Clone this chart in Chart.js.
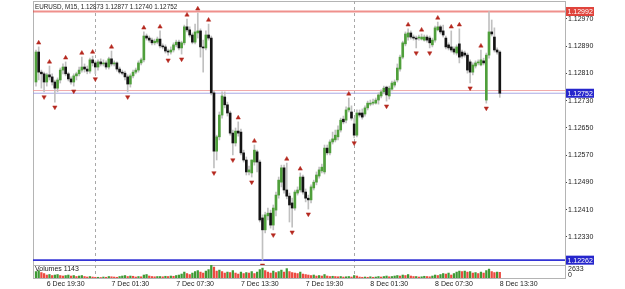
<!DOCTYPE html>
<html>
<head>
<meta charset="utf-8">
<script src="https://cdn.jsdelivr.net/npm/chart.js@4.4.1/dist/chart.umd.min.js"></script>
<style>
  html, body { margin: 0; padding: 0; background: #fff; }
  #wrap { width: 625px; height: 289px; }
</style>
</head>
<body>
<div id="wrap"><canvas id="chart" width="625" height="289"></canvas></div>
<script>
const symbol = 'EURUSD';
const timeframe = 'M15';

// M15 bars, 6 Dec 18:30 -> 8 Dec 13:30
const open = [
  1.12785, 1.12873, 1.12814, 1.12809, 1.12785, 1.12806, 1.12800, 1.12785, 1.12767, 1.12791,
  1.12820, 1.12829, 1.12809, 1.12794, 1.12785, 1.12803, 1.12809, 1.12820, 1.12829, 1.12823,
  1.12817, 1.12850, 1.12841, 1.12829, 1.12844, 1.12838, 1.12841, 1.12829, 1.12853, 1.12838,
  1.12841, 1.12823, 1.12814, 1.12811, 1.12800, 1.12779, 1.12803, 1.12814, 1.12820, 1.12841,
  1.12850, 1.12920, 1.12914, 1.12908, 1.12900, 1.12902, 1.12911, 1.12891, 1.12888, 1.12876,
  1.12873, 1.12879, 1.12894, 1.12902, 1.12885, 1.12900, 1.12947, 1.12938, 1.12923, 1.12902,
  1.12929, 1.12935, 1.12888, 1.12885, 1.12923, 1.12914, 1.12753, 1.12582, 1.12624, 1.12688,
  1.12741, 1.12718, 1.12694, 1.12635, 1.12606, 1.12641, 1.12638, 1.12577, 1.12556, 1.12521,
  1.12518, 1.12550, 1.12580, 1.12550, 1.12386, 1.12351, 1.12392, 1.12400, 1.12365, 1.12409,
  1.12453, 1.12491, 1.12533, 1.12468, 1.12450, 1.12430, 1.12415, 1.12459, 1.12468, 1.12506,
  1.12462, 1.12444, 1.12439, 1.12474, 1.12491, 1.12509, 1.12524, 1.12521, 1.12591, 1.12577,
  1.12609, 1.12615, 1.12624, 1.12644, 1.12676, 1.12673, 1.12703, 1.12697, 1.12662, 1.12629,
  1.12694, 1.12694, 1.12691, 1.12709, 1.12720, 1.12723, 1.12723, 1.12732, 1.12744, 1.12756,
  1.12770, 1.12744, 1.12764, 1.12776, 1.12791, 1.12823, 1.12858, 1.12897, 1.12917, 1.12929,
  1.12917, 1.12914, 1.12914, 1.12911, 1.12908, 1.12917, 1.12914, 1.12894, 1.12908, 1.12938,
  1.12947, 1.12935, 1.12914, 1.12894, 1.12888, 1.12882, 1.12870, 1.12897, 1.12873, 1.12870,
  1.12864, 1.12844, 1.12814, 1.12832, 1.12841, 1.12835, 1.12847, 1.12732, 1.12864, 1.12932,
  1.12917, 1.12879, 1.12873
];
const high = [
  1.12879, 1.12888, 1.12820, 1.12814, 1.12811, 1.12832, 1.12809, 1.12791, 1.12797, 1.12826,
  1.12838, 1.12844, 1.12814, 1.12800, 1.12809, 1.12814, 1.12829, 1.12858, 1.12838, 1.12832,
  1.12855, 1.12861, 1.12847, 1.12850, 1.12853, 1.12850, 1.12847, 1.12858, 1.12876, 1.12847,
  1.12844, 1.12829, 1.12820, 1.12817, 1.12806, 1.12809, 1.12820, 1.12826, 1.12847, 1.12855,
  1.12932, 1.12926, 1.12920, 1.12914, 1.12911, 1.12917, 1.12935, 1.12897, 1.12894, 1.12882,
  1.12888, 1.12900, 1.12908, 1.12908, 1.12905, 1.12952, 1.12970, 1.12947, 1.12929, 1.12955,
  1.12988, 1.12941, 1.12908, 1.12935, 1.12955, 1.12920, 1.12759, 1.12629, 1.12697, 1.12756,
  1.12756, 1.12726, 1.12700, 1.12644, 1.12650, 1.12668, 1.12647, 1.12585, 1.12565, 1.12538,
  1.12556, 1.12600, 1.12585, 1.12556, 1.12395, 1.12403, 1.12415, 1.12409, 1.12424, 1.12462,
  1.12506, 1.12541, 1.12541, 1.12547, 1.12459, 1.12444, 1.12468, 1.12477, 1.12518, 1.12512,
  1.12471, 1.12453, 1.12483, 1.12497, 1.12521, 1.12535, 1.12544, 1.12600, 1.12600, 1.12615,
  1.12638, 1.12644, 1.12656, 1.12679, 1.12685, 1.12712, 1.12738, 1.12715, 1.12679, 1.12703,
  1.12703, 1.12706, 1.12715, 1.12729, 1.12732, 1.12735, 1.12738, 1.12753, 1.12762, 1.12773,
  1.12773, 1.12773, 1.12788, 1.12791, 1.12838, 1.12864, 1.12905, 1.12932, 1.12941, 1.12935,
  1.12923, 1.12920, 1.12923, 1.12926, 1.12923, 1.12923, 1.12920, 1.12914, 1.12949, 1.12961,
  1.12952, 1.12952, 1.12920, 1.12900, 1.12935, 1.12888, 1.12894, 1.12941, 1.12879, 1.12876,
  1.12870, 1.12850, 1.12841, 1.12847, 1.12850, 1.12879, 1.12855, 1.12870, 1.12992, 1.12967,
  1.12944, 1.12885, 1.12877
];
const low = [
  1.12773, 1.12791, 1.12767, 1.12756, 1.12773, 1.12791, 1.12776, 1.12726, 1.12756, 1.12782,
  1.12809, 1.12803, 1.12788, 1.12779, 1.12773, 1.12791, 1.12803, 1.12814, 1.12814, 1.12809,
  1.12811, 1.12832, 1.12809, 1.12820, 1.12832, 1.12832, 1.12823, 1.12823, 1.12832, 1.12832,
  1.12817, 1.12809, 1.12806, 1.12791, 1.12756, 1.12770, 1.12797, 1.12809, 1.12814, 1.12835,
  1.12844, 1.12908, 1.12902, 1.12894, 1.12894, 1.12897, 1.12885, 1.12882, 1.12870, 1.12864,
  1.12867, 1.12873, 1.12888, 1.12879, 1.12867, 1.12894, 1.12932, 1.12917, 1.12897, 1.12897,
  1.12914, 1.12858, 1.12814, 1.12879, 1.12908, 1.12747, 1.12533, 1.12556, 1.12615, 1.12679,
  1.12709, 1.12685, 1.12629, 1.12571, 1.12597, 1.12626, 1.12571, 1.12550, 1.12512, 1.12512,
  1.12506, 1.12541, 1.12521, 1.12374, 1.12262, 1.12342, 1.12380, 1.12356, 1.12351, 1.12392,
  1.12444, 1.12477, 1.12459, 1.12442, 1.12374, 1.12359, 1.12409, 1.12453, 1.12462, 1.12456,
  1.12433, 1.12412, 1.12430, 1.12468, 1.12483, 1.12503, 1.12518, 1.12515, 1.12571, 1.12571,
  1.12603, 1.12609, 1.12615, 1.12638, 1.12662, 1.12665, 1.12697, 1.12673, 1.12621, 1.12624,
  1.12682, 1.12676, 1.12685, 1.12703, 1.12715, 1.12718, 1.12720, 1.12720, 1.12738, 1.12750,
  1.12729, 1.12735, 1.12759, 1.12770, 1.12785, 1.12817, 1.12853, 1.12891, 1.12908, 1.12911,
  1.12908, 1.12885, 1.12908, 1.12908, 1.12905, 1.12902, 1.12885, 1.12888, 1.12902, 1.12935,
  1.12926, 1.12917, 1.12882, 1.12879, 1.12873, 1.12867, 1.12864, 1.12841, 1.12855, 1.12858,
  1.12811, 1.12782, 1.12806, 1.12826, 1.12835, 1.12832, 1.12835, 1.12723, 1.12855, 1.12920,
  1.12873, 1.12867, 1.12740
];
const close = [
  1.12873, 1.12814, 1.12809, 1.12785, 1.12806, 1.12800, 1.12785, 1.12767, 1.12791, 1.12820,
  1.12829, 1.12809, 1.12794, 1.12785, 1.12803, 1.12809, 1.12820, 1.12829, 1.12823, 1.12817,
  1.12850, 1.12841, 1.12829, 1.12844, 1.12838, 1.12841, 1.12829, 1.12853, 1.12838, 1.12841,
  1.12823, 1.12814, 1.12811, 1.12800, 1.12779, 1.12803, 1.12814, 1.12820, 1.12841, 1.12850,
  1.12920, 1.12914, 1.12908, 1.12900, 1.12905, 1.12911, 1.12891, 1.12888, 1.12876, 1.12873,
  1.12879, 1.12894, 1.12902, 1.12885, 1.12900, 1.12947, 1.12938, 1.12923, 1.12902, 1.12932,
  1.12935, 1.12888, 1.12885, 1.12923, 1.12914, 1.12753, 1.12582, 1.12624, 1.12688, 1.12744,
  1.12718, 1.12694, 1.12635, 1.12606, 1.12641, 1.12635, 1.12577, 1.12556, 1.12521, 1.12527,
  1.12556, 1.12585, 1.12550, 1.12380, 1.12351, 1.12395, 1.12400, 1.12365, 1.12415, 1.12453,
  1.12497, 1.12533, 1.12468, 1.12450, 1.12424, 1.12415, 1.12462, 1.12468, 1.12506, 1.12462,
  1.12444, 1.12439, 1.12477, 1.12491, 1.12512, 1.12527, 1.12535, 1.12591, 1.12577, 1.12609,
  1.12618, 1.12629, 1.12644, 1.12673, 1.12668, 1.12703, 1.12709, 1.12679, 1.12629, 1.12694,
  1.12688, 1.12682, 1.12709, 1.12723, 1.12723, 1.12726, 1.12732, 1.12747, 1.12756, 1.12767,
  1.12747, 1.12767, 1.12782, 1.12785, 1.12826, 1.12858, 1.12900, 1.12926, 1.12929, 1.12917,
  1.12914, 1.12911, 1.12917, 1.12917, 1.12917, 1.12908, 1.12900, 1.12908, 1.12944, 1.12947,
  1.12932, 1.12923, 1.12888, 1.12885, 1.12879, 1.12873, 1.12888, 1.12858, 1.12861, 1.12864,
  1.12820, 1.12814, 1.12835, 1.12841, 1.12844, 1.12850, 1.12841, 1.12864, 1.12932, 1.12926,
  1.12879, 1.12873, 1.12752
];
const volume = [
  1300, 1500, 1100, 900, 600, 700, 500, 600, 700, 500, 400,
  500, 600, 400, 500, 300, 400, 500, 300, 200, 300, 200, 150,
  150, 100, 200, 150, 300, 250, 200, 150, 300, 400, 500, 300, 400, 350, 200, 300, 250, 600, 700, 400, 300, 250, 300,
  300, 250, 350, 300, 400, 350, 500, 600, 800, 1200, 900, 700, 1000, 1300, 1500, 1200, 1000, 1400, 1700,
  2633, 2200, 1400, 1600, 1300, 1000, 1200, 1100, 1500, 1000, 800, 1200, 900, 1100, 1000, 1300, 900, 1200, 1700, 2000,
  1500, 1200, 1000, 1400, 1100, 1300, 1600, 1200, 1900, 1300, 1100, 1000, 900, 1200, 800, 700, 600,
  500, 600, 400, 500, 400, 700, 400, 300, 350, 300, 250, 300, 200, 250, 300, 200, 500, 400, 200,
  150, 200, 150, 250, 150, 200, 300, 200, 300, 400, 250, 300, 400, 500, 400, 600, 500, 700, 400, 300,
  300, 200, 250, 350, 300, 250, 400, 600, 500, 700, 900, 800, 1000, 600, 900, 1200, 1400, 1300, 1400, 1200,
  1300, 1000, 1100, 900, 1200, 1000, 1500, 1800, 1300, 1100, 1200, 1143
];

const tickBars = [4, 28, 52, 76, 100, 124, 148, 172];
const tickLabels = ['6 Dec 19:30', '7 Dec 01:30', '7 Dec 07:30', '7 Dec 13:30',
  '7 Dec 19:30', '8 Dec 01:30', '8 Dec 07:30', '8 Dec 13:30'];
const daySeparators = [22, 118];
const priceTicks = [1.12970, 1.12890, 1.12810, 1.12730, 1.12650, 1.12570, 1.12490, 1.12410, 1.12330];

// fractal arrows (bar indexes)
const upFractals = [1, 5, 11, 17, 21, 28, 40, 46, 56, 60, 64, 75, 81, 93, 98, 116, 138, 143, 149, 154, 157, 165];
const downFractals = [3, 7, 14, 22, 34, 49, 54, 66, 73, 80, 84, 88, 95, 101, 118, 130, 141, 146, 161, 167];

const levelHigh = 1.12992;
const levelLow = 1.12262;
const askPrice = 1.12760;
const bidPrice = 1.12752;
const volumeMax = 2633;

const FONT = '"Liberation Sans", Arial, sans-serif';
const bullColor = '#4f9f3b';
const bearColor = '#141414';
const wickColor = '#c0c0c0';
const arrowColor = '#b5281f';
const frameColor = '#b4b4b4';
const ARROW_UP = 0.00012;
const ARROW_DN = 0.00015;

Chart.defaults.font.family = FONT;

const bars = close.map((_, i) => i);
const last = close.length - 1;

// drop the label-overflow padding, the frame comes from layout.padding only
const noPad = s => { s.paddingTop = 0; s.paddingBottom = 0; s.paddingLeft = 0; s.paddingRight = 0; };

const mt4Overlay = {
  id: 'mt4Overlay',
  beforeDatasetsDraw(chart) {
    const { ctx, chartArea: a, scales: { x, y } } = chart;
    ctx.save();
    ctx.lineWidth = 1;
    ctx.strokeStyle = frameColor;
    ctx.beginPath();
    ctx.moveTo(a.left + 0.5, a.top); ctx.lineTo(a.left + 0.5, a.bottom);
    ctx.moveTo(a.left, a.top + 0.5); ctx.lineTo(a.right, a.top + 0.5);
    ctx.moveTo(a.left, Math.round(y.bottom) + 0.5); ctx.lineTo(a.right, Math.round(y.bottom) + 0.5);
    ctx.moveTo(a.left, a.bottom + 0.5); ctx.lineTo(a.right, a.bottom + 0.5);
    ctx.stroke();

    // day separators
    ctx.setLineDash([3, 3]);
    ctx.strokeStyle = '#a8a8a8';
    daySeparators.forEach(i => {
      const px = Math.round(x.getPixelForValue(i)) + 0.5;
      ctx.beginPath(); ctx.moveTo(px, a.top); ctx.lineTo(px, a.bottom); ctx.stroke();
    });
    ctx.setLineDash([]);

    const hline = (v, color, w) => {
      const py = y.getPixelForValue(v);
      ctx.strokeStyle = color; ctx.lineWidth = w;
      ctx.beginPath(); ctx.moveTo(a.left, py); ctx.lineTo(a.right, py); ctx.stroke();
    };
    hline(levelHigh, 'rgba(228,70,64,0.6)', 2);
    hline(askPrice, 'rgba(238,150,150,0.8)', 1);
    hline(bidPrice, 'rgba(160,160,225,0.9)', 1);
    hline(levelLow, '#3434d6', 1.6);
    ctx.restore();
  },
  afterDraw(chart) {
    const { ctx, chartArea: a, scales: { y, yv } } = chart;
    const fmt = v => v.toFixed(5);
    ctx.save();
    ctx.textBaseline = 'middle';
    ctx.textAlign = 'left';
    ctx.fillStyle = '#222';
    ctx.font = '6.3px ' + FONT;
    ctx.fillText(`${symbol}, ${timeframe}, ${fmt(open[last])} ${fmt(high[last])} ${fmt(low[last])} ${fmt(close[last])}`, a.left + 2, 7);

    ctx.font = '7px ' + FONT;
    ctx.fillText(`Volumes ${volume[last]}`, a.left + 2, yv.getPixelForValue(volumeMax) + 4);
    ctx.fillText(String(volumeMax), a.right + 3, yv.getPixelForValue(volumeMax) + 4);
    ctx.fillText('0', a.right + 3, yv.getPixelForValue(0) - 3);

    const box = (v, bg) => {
      const py = y.getPixelForValue(v);
      ctx.fillStyle = bg;
      ctx.fillRect(a.right + 1, py - 4.5, 28, 9);
      ctx.fillStyle = '#fff';
      ctx.fillText(fmt(v), a.right + 2.5, py + 0.5);
    };
    box(levelHigh, '#e0443c');
    box(bidPrice, '#2626cc');
    box(levelLow, '#2626cc');
    ctx.restore();
  }
};

new Chart(document.getElementById('chart'), {
  type: 'bar',
  data: {
    datasets: [
      {
        label: 'wicks',
        data: bars.map(i => ({ x: i, y: [low[i], high[i]] })),
        backgroundColor: wickColor,
        barThickness: 1,
        grouped: false,
        yAxisID: 'y',
        order: 3
      },
      {
        label: 'bodies',
        data: bars.map(i => ({ x: i, y: [open[i], close[i]] })),
        backgroundColor: bars.map(i => close[i] >= open[i] ? bullColor : bearColor),
        barThickness: 2,
        minBarLength: 1,
        grouped: false,
        yAxisID: 'y',
        order: 2
      },
      {
        type: 'line',
        label: 'fractals up',
        data: upFractals.map(i => ({ x: i, y: high[i] + ARROW_UP })),
        showLine: false,
        pointStyle: 'triangle',
        pointRadius: 2.5,
        pointBackgroundColor: arrowColor,
        pointBorderColor: arrowColor,
        pointBorderWidth: 0.5,
        yAxisID: 'y',
        order: 1
      },
      {
        type: 'line',
        label: 'fractals down',
        data: downFractals.map(i => ({ x: i, y: low[i] - ARROW_DN })),
        showLine: false,
        pointStyle: 'triangle',
        pointRotation: 180,
        pointRadius: 2.5,
        pointBackgroundColor: arrowColor,
        pointBorderColor: arrowColor,
        pointBorderWidth: 0.5,
        yAxisID: 'y',
        order: 1
      },
      {
        label: 'volume',
        data: bars.map(i => ({ x: i, y: volume[i] })),
        backgroundColor: bars.map(i => i > 0 && volume[i] < volume[i - 1] ? '#ec4a40' : '#3f9a35'),
        barThickness: 1.6,
        grouped: false,
        yAxisID: 'yv',
        order: 4
      }
    ]
  },
  options: {
    responsive: false,
    animation: false,
    devicePixelRatio: 1,
    events: [],
    layout: { autoPadding: false, padding: { left: 33, top: 1, right: 0, bottom: 0 } },
    plugins: { legend: { display: false }, tooltip: { enabled: false } },
    scales: {
      x: {
        type: 'linear',
        min: -1.11,
        max: 196.18,
        offset: false,
        afterBuildTicks: s => { s.ticks = tickBars.map(v => ({ value: v })); },
        afterFit: s => { s.height = 11; noPad(s); },
        grid: { display: false, drawTicks: false },
        border: { display: false },
        ticks: {
          autoSkip: false,
          maxRotation: 0,
          align: 'start',
          padding: 2,
          color: '#222',
          font: { size: 7 },
          callback: v => tickLabels[tickBars.indexOf(v)] ?? ''
        }
      },
      y: {
        type: 'linear',
        position: 'right',
        stack: 'mt4',
        stackWeight: 264,
        min: 1.122478,
        max: 1.130228,
        afterBuildTicks: s => { s.ticks = priceTicks.map(v => ({ value: v })); },
        afterFit: s => { s.width = 60; noPad(s); },
        grid: { drawOnChartArea: false, drawTicks: true, tickLength: 2, tickColor: '#444' },
        border: { display: true, color: frameColor },
        ticks: { padding: 1, color: '#222', font: { size: 7 }, callback: v => v.toFixed(5) }
      },
      yv: {
        type: 'linear',
        position: 'right',
        stack: 'mt4',
        stackWeight: 13,
        min: 0,
        max: volumeMax,
        afterFit: s => { s.width = 60; noPad(s); },
        grid: { display: false },
        border: { display: true, color: frameColor },
        ticks: { display: false }
      }
    }
  },
  plugins: [mt4Overlay]
});
</script>
</body>
</html>
